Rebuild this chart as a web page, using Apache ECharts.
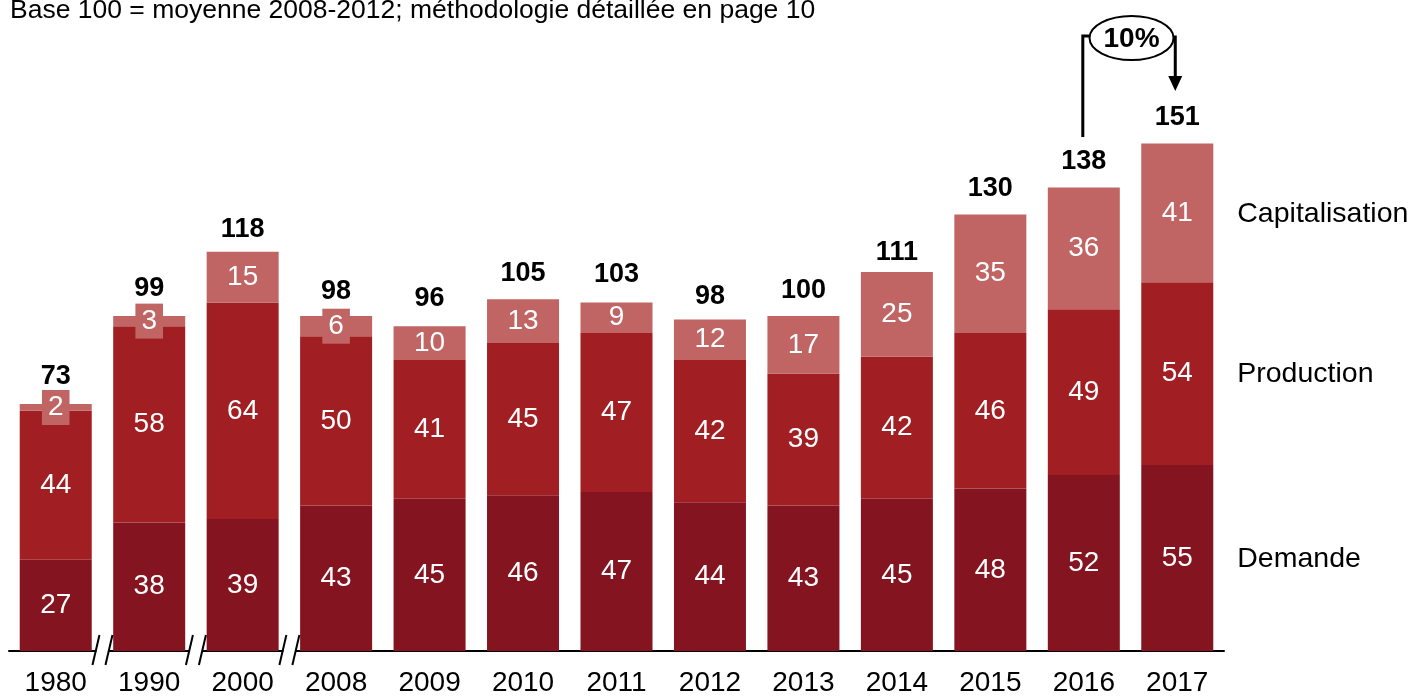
<!DOCTYPE html>
<html>
<head>
<meta charset="utf-8">
<script src="https://cdn.jsdelivr.net/npm/echarts@6/dist/echarts.min.js"></script>
<style>
html,body{margin:0;padding:0;background:#fff;}
#chart{width:1413px;height:698px;}
</style>
</head>
<body>
<div id="chart"></div>
<script>
const categories = ['1980','1990','2000','2008','2009','2010','2011','2012','2013','2014','2015','2016','2017'];
const demande = [27,38,39,43,45,46,47,44,43,45,48,52,55];
const production = [44,58,64,50,41,45,47,42,39,42,46,49,54];
const capitalisation = [2,3,15,6,10,13,9,12,17,25,35,36,41];
const totals = [73,99,118,98,96,105,103,98,100,111,130,138,151];
const seriesNames = ['Demande','Production','Capitalisation'];
const growthLabel = '10%';
const subtitle = 'Base 100 = moyenne 2008-2012; méthodologie détaillée en page 10';

const COLORS = ['#84141F','#A11F22','#C06464'];
const FONT = 'Liberation Sans, Arial, sans-serif';

const chart = echarts.init(document.getElementById('chart'));

function innerLabel() {
  return {
    show: true, position: 'inside', color: '#fff', fontSize: 28, fontFamily: FONT
  };
}

const capData = capitalisation.map(v => {
  if (v < 8) {
    return { value: v, label: { backgroundColor: COLORS[2], padding: [4, 6, 3, 6] } };
  }
  return v;
});

const totalData = totals.map((v, i) => {
  const small = capitalisation[i] <= 10;
  return { value: v, label: { distance: small ? 14 : 9 } };
});

const option = {
  animation: false,
  backgroundColor: '#fff',
  grid: { left: 9, right: 1413 - 1224, top: 42, bottom: 47, containLabel: false },
  xAxis: {
    type: 'category',
    data: categories,
    axisTick: { show: false },
    axisLine: { lineStyle: { color: '#000', width: 2 } },
    axisLabel: { fontSize: 28, color: '#000', margin: 18, fontFamily: FONT }
  },
  yAxis: { type: 'value', min: 0, max: 180, show: false, splitLine: { show: false } },
  series: [
    { name: seriesNames[0], type: 'bar', stack: 's', barWidth: 72, data: demande,
      itemStyle: { color: COLORS[0] }, label: innerLabel() },
    { name: seriesNames[1], type: 'bar', stack: 's', barWidth: 72, data: production,
      itemStyle: { color: COLORS[1] }, label: innerLabel() },
    { name: seriesNames[2], type: 'bar', stack: 's', barWidth: 72, data: capData,
      itemStyle: { color: COLORS[2] }, label: innerLabel(), z: 3 },
    { name: 'Total', type: 'scatter', data: totalData, symbolSize: 0, z: 5, silent: true,
      label: { show: true, position: 'top', color: '#000', opacity: 1, fontSize: 27, fontWeight: 'bold', fontFamily: FONT, textBorderWidth: 0 } }
  ]
};
chart.setOption(option);

// Graphics positioned through the chart's own scales
const xPix = i => chart.convertToPixel({ xAxisIndex: 0 }, i);
const yPix = v => chart.convertToPixel({ yAxisIndex: 0 }, v);
const axisY = yPix(0);
const graphics = [];

// subtitle
graphics.push({
  type: 'text', x: 10, y: -3, z: 100,
  style: { text: subtitle, font: '26.5px ' + FONT, fill: '#000', verticalAlign: 'top' }
});

// axis breaks between 1980/1990, 1990/2000, 2000/2008
[0, 1, 2].forEach(i => {
  const cx = (xPix(i) + xPix(i + 1)) / 2;
  graphics.push({ type: 'rect', z: 100, shape: { x: cx - 6, y: axisY - 2, width: 12, height: 4 }, style: { fill: '#fff' } });
  graphics.push({ type: 'line', z: 101, shape: { x1: cx - 10, y1: axisY + 14, x2: cx - 3, y2: axisY - 16 }, style: { stroke: '#000', lineWidth: 2 } });
  graphics.push({ type: 'line', z: 101, shape: { x1: cx + 3, y1: axisY + 14, x2: cx + 10, y2: axisY - 16 }, style: { stroke: '#000', lineWidth: 2 } });
});

// right-side series labels, at the middle of the last bar's segments
const last = categories.length - 1;
const lastX = xPix(last) + 36 + 24;
let cum = 0;
[demande, production, capitalisation].forEach((arr, k) => {
  const mid = cum + arr[last] / 2;
  cum += arr[last];
  graphics.push({
    type: 'text', x: lastX, y: yPix(mid) + 1, z: 100,
    style: { text: seriesNames[k], font: '28.5px ' + FONT, fill: '#000', verticalAlign: 'middle', align: 'left' }
  });
});

// growth annotation 2016 -> 2017
const x16 = xPix(last - 1), x17 = xPix(last);
const ex = (x16 + x17) / 2 + 1, ey = 38;
graphics.push({ type: 'polyline', z: 100, shape: { points: [[x16 - 1, 137], [x16 - 1, 36], [ex - 42, 36]] }, style: { stroke: '#000', lineWidth: 3, fill: null } });
graphics.push({ type: 'polyline', z: 100, shape: { points: [[ex + 42, 37], [x17 - 2, 37], [x17 - 2, 78]] }, style: { stroke: '#000', lineWidth: 3, fill: null } });
graphics.push({ type: 'polygon', z: 100, shape: { points: [[x17 - 9, 76], [x17 + 5, 76], [x17 - 2, 91]] }, style: { fill: '#000' } });
graphics.push({ type: 'ellipse', z: 100, shape: { cx: ex, cy: ey, rx: 42, ry: 22 }, style: { fill: '#fff', stroke: '#000', lineWidth: 2 } });
graphics.push({ type: 'text', z: 101, x: ex, y: ey + 1, style: { text: growthLabel, font: 'bold 28px ' + FONT, fill: '#000', align: 'center', verticalAlign: 'middle' } });

chart.setOption({ graphic: graphics });
</script>
</body>
</html>
